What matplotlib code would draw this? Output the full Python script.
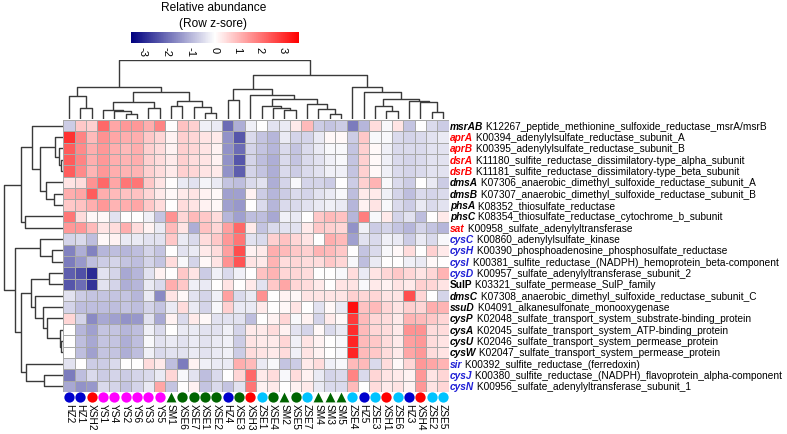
import matplotlib
matplotlib.use("Agg")
import matplotlib.pyplot as plt
import numpy as np
from matplotlib.colors import LinearSegmentedColormap, TwoSlopeNorm
import matplotlib.cm as cm

plt.rcParams['font.family'] = ['Liberation Sans', 'DejaVu Sans']
plt.rcParams['axes.unicode_minus'] = False

# ---- data ----
samples = ["HZ2", "HZ1", "XSH2", "YS1", "YS4", "YS2", "YS6", "YS3", "YS5", "SM1",
           "XSE6", "XSE7", "XSE1", "XSE2", "HZ4", "XSE3", "XSH3", "ZSE1", "XSE4", "SM2",
           "XSE5", "ZSE7", "SM4", "SM3", "SM5", "ZSE4", "HZ5", "ZSE3", "XSH1", "ZSE6",
           "HZ3", "XSH4", "ZSE2", "ZSE5"]

genes = ["msrAB", "aprA", "aprB", "dsrA", "dsrB", "dmsA", "dmsB", "phsA", "phsC", "sat",
         "cysC", "cysH", "cysI", "cysD", "SulP", "dmsC", "ssuD", "cysP", "cysA", "cysU",
         "cysW", "sir", "cysJ", "cysN"]

ko_desc = ["K12267_peptide_methionine_sulfoxide_reductase_msrA/msrB",
           "K00394_adenylylsulfate_reductase_subunit_A",
           "K00395_adenylylsulfate_reductase_subunit_B",
           "K11180_sulfite_reductase_dissimilatory-type_alpha_subunit",
           "K11181_sulfite_reductase_dissimilatory-type_beta_subunit",
           "K07306_anaerobic_dimethyl_sulfoxide_reductase_subunit_A",
           "K07307_anaerobic_dimethyl_sulfoxide_reductase_subunit_B",
           "K08352_thiosulfate_reductase",
           "K08354_thiosulfate_reductase_cytochrome_b_subunit",
           "K00958_sulfate_adenylyltransferase",
           "K00860_adenylylsulfate_kinase",
           "K00390_phosphoadenosine_phosphosulfate_reductase",
           "K00381_sulfite_reductase_(NADPH)_hemoprotein_beta-component",
           "K00957_sulfate_adenylyltransferase_subunit_2",
           "K03321_sulfate_permease_SulP_family",
           "K07308_anaerobic_dimethyl_sulfoxide_reductase_subunit_C",
           "K04091_alkanesulfonate_monooxygenase",
           "K02048_sulfate_transport_system_substrate-binding_protein",
           "K02045_sulfate_transport_system_ATP-binding_protein",
           "K02046_sulfate_transport_system_permease_protein",
           "K02047_sulfate_transport_system_permease_protein",
           "K00392_sulfite_reductase_(ferredoxin)",
           "K00380_sulfite_reductase_(NADPH)_flavoprotein_alpha-component",
           "K00956_sulfate_adenylyltransferase_subunit_1"]

# pathway group of each gene: d = dissimilatory (red), a = assimilatory (blue), o = other
gene_group = ["o", "d", "d", "d", "d", "o", "o", "o", "o", "d",
              "a", "a", "a", "a", "o", "o", "o", "o", "o", "o",
              "o", "a", "a", "a"]

zscore_rows = [
    [-0.7, 0.8, 0.7, 2.2, 1.3, 1.5, 1.5, 1.2, 1.8, 0.0, 0.9, 0.7, -0.2, -0.3, -2.0, -1.1, -0.2, 0.0, -0.4, -0.3, 0.3, 1.0, -0.7, -0.8, -0.7, -1.8, -1.0, 0.5, -0.1, 0.4, -0.8, 0.0, -0.5, -0.7],
    [3.0, 1.8, 1.0, 1.6, 1.3, 1.2, 1.2, 0.8, 0.6, 0.2, 0.7, 0.6, 0.4, 0.3, -1.5, -2.3, -0.5, -0.8, -1.0, -0.3, -0.6, -0.6, -0.3, 0.1, 0.1, -0.7, 0.8, -0.1, -0.1, -0.5, -0.6, -0.5, -0.4, -0.3],
    [2.4, 1.7, 1.2, 1.5, 1.2, 1.0, 1.2, 0.7, 0.5, 0.2, 0.7, 0.6, 0.4, 0.2, -1.5, -2.0, -0.6, -0.8, -1.0, -0.5, -0.8, -0.5, -0.3, -0.1, -0.1, -0.8, 0.7, 0.1, -0.2, -0.5, -0.5, -0.5, -0.4, -0.4],
    [2.4, 1.8, 1.2, 1.5, 1.2, 1.1, 1.2, 0.7, 0.5, 0.3, 0.7, 0.5, 0.4, 0.2, -1.5, -2.3, -0.6, -0.9, -1.1, -0.5, -0.8, -0.5, -0.4, -0.2, -0.1, -0.8, 0.7, 0.1, -0.2, -0.5, -0.6, -0.5, -0.4, -0.4],
    [2.4, 1.7, 1.1, 1.5, 1.2, 1.1, 1.1, 0.7, 0.5, 0.3, 0.7, 0.6, 0.4, 0.3, -1.5, -2.2, -0.6, -0.8, -1.1, -0.5, -0.7, -0.5, -0.4, -0.2, -0.2, -0.8, 0.7, 0.1, -0.2, -0.5, -0.6, -0.5, -0.4, -0.4],
    [0.4, 0.5, 1.6, 2.2, 1.3, 2.0, 2.0, 0.8, 0.4, 0.05, -0.3, -0.4, -0.15, -0.3, -0.8, -0.9, -0.5, -0.4, -1.1, -0.6, -0.1, -0.6, -0.6, -0.7, 0.0, -0.7, 0.7, 1.1, -0.1, -0.5, -0.7, 0.0, -0.3, -0.7],
    [1.2, 1.3, 2.4, 1.2, 1.0, 0.9, 0.9, 0.6, 0.3, 0.1, 0.3, 0.4, 0.2, 0.1, -1.3, -1.3, 0.2, -0.7, -1.0, -0.7, -0.5, -0.6, -0.4, -0.3, -0.1, -0.9, 0.3, 0.3, -0.2, -0.6, -0.9, -0.5, -0.6, -0.5],
    [0.8, 0.9, 1.2, 1.5, 1.1, 1.2, 1.3, 0.8, 0.5, 0.0, 0.5, 0.4, 0.2, 0.1, -1.3, -1.4, 0.0, -0.5, -1.0, -0.5, -0.5, -0.4, -0.3, -0.2, -0.3, -1.0, 0.2, 0.4, -0.1, -0.5, -0.7, -0.3, -0.5, -0.4],
    [2.0, 0.5, 0.1, 0.1, -0.4, 0.0, 0.0, -0.2, -0.8, 1.6, 0.6, 1.0, 0.8, 0.5, -1.0, -1.3, -0.9, -0.9, -1.2, -0.2, -0.3, 0.0, 0.8, 1.0, 0.9, -1.0, 1.9, -0.1, 0.3, -0.6, -0.4, -0.9, 0.0, 0.3],
    [1.5, 1.5, 1.0, 0.4, 0.5, 1.2, 0.5, 0.2, -0.3, 1.0, 0.4, -1.1, 0.9, 0.6, 1.4, 2.2, 0.3, -0.8, -0.5, -0.4, -0.4, 0.3, 0.8, 0.7, 0.6, -1.5, -0.2, -0.7, -0.6, -0.8, -1.0, -0.6, -0.8, -1.0],
    [-0.6, -0.5, -0.9, 0.1, 0.2, -0.3, -0.3, -0.4, -0.4, 0.8, -0.3, -0.5, 0.5, 0.8, 1.5, 2.0, -0.4, -0.5, 0.7, 0.9, 0.6, 0.4, 0.0, 1.2, 1.0, -1.3, -0.4, -0.5, -0.2, -0.3, -0.7, -0.3, -0.5, -0.1],
    [-1.7, -1.1, -1.7, -1.0, -0.9, -1.0, -0.9, -0.6, -0.8, 0.0, -0.4, -0.3, 0.3, 0.5, 1.4, 2.6, 0.2, 0.3, 1.2, 1.0, 0.8, 0.7, 1.1, 1.0, 0.8, 0.0, -0.8, -0.5, -0.1, 0.1, 0.5, 0.0, 0.7, 0.3],
    [-1.8, -1.4, -0.9, -0.7, -0.6, -0.8, -0.9, -0.6, -0.8, 0.5, -0.1, -0.6, 0.1, 0.4, 1.6, 2.5, 0.4, 0.3, 1.1, 0.5, 0.6, 0.5, 0.5, 0.8, 0.6, -0.1, -0.9, -0.3, 0.0, 0.0, -0.2, -0.3, 0.1, 0.0],
    [-2.2, -2.4, -2.9, -0.4, -0.6, -1.2, -1.0, -0.4, 0.2, 0.0, 0.8, 0.4, -0.7, -0.2, -0.5, -0.2, 0.0, 0.9, 1.1, 0.6, 0.6, 0.5, 0.0, 0.0, -0.1, 0.5, -0.3, 0.4, 0.6, 0.8, 0.6, 0.4, 0.6, 1.1],
    [-2.3, -2.0, -2.8, -0.4, -0.6, -1.1, -1.0, -0.3, -0.5, 1.2, 0.8, -0.2, -0.3, 0.0, 0.4, 0.0, 0.3, -0.4, 0.8, 1.3, 0.6, 0.5, 0.3, 0.0, 0.4, 0.4, -0.1, 0.3, 0.2, 0.4, 0.3, 0.7, 0.6, 0.4],
    [-0.4, -0.7, -0.8, -0.8, -0.8, -0.8, -1.0, -0.3, -1.6, 0.4, 0.1, -0.4, -0.6, -0.2, 1.4, -0.5, -0.3, 1.6, 0.0, 0.2, 0.1, 0.4, 0.4, 0.4, 0.4, 0.7, 0.6, 0.6, 0.4, 0.4, 2.6, 0.6, 0.0, -0.6],
    [-0.6, -0.9, -0.9, -0.9, -0.9, -0.8, -0.9, -0.6, -0.8, -0.3, 0.5, -0.3, -0.6, -0.1, 0.7, -0.3, -0.3, 0.3, 0.0, 0.1, 0.4, 0.0, -0.4, 0.1, -0.3, 3.5, 0.9, 1.0, 0.6, 0.4, 0.7, 0.6, 1.2, 1.1],
    [0.6, -0.6, -1.6, -1.2, -1.3, -1.5, -1.4, -0.4, -1.2, 0.2, -0.5, 0.3, 0.1, -0.4, -0.4, -0.4, -0.9, 0.0, 0.2, 0.6, -0.1, 0.2, -0.6, 0.3, 0.1, 2.9, 1.0, 0.6, 0.5, 0.3, 1.1, 1.0, 0.8, 0.6],
    [0.0, -1.0, -1.3, -0.8, -0.8, -1.0, -0.9, -0.2, -0.5, 0.0, -0.3, -0.3, -0.4, -0.4, -0.2, -0.6, 0.3, 0.3, 0.5, 0.2, -0.4, -0.6, 0.1, -0.5, -0.3, 3.1, 1.0, 0.6, 0.5, 0.3, 1.6, 1.6, 0.5, 0.5],
    [0.0, -0.9, -1.2, -0.8, -0.8, -1.1, -0.9, -0.1, -0.4, -0.3, -0.4, -0.3, -0.4, -0.3, -0.2, -0.7, 0.4, 0.3, 0.3, 0.6, -0.2, 0.4, 0.2, 0.0, -0.1, 3.2, 1.0, 0.8, 0.5, 0.3, 1.4, 1.5, 0.5, 0.4],
    [0.0, -0.9, -1.3, -0.8, -0.8, -1.1, -0.9, -0.2, -0.5, -0.4, -0.4, -0.3, -0.4, -0.3, -0.2, -0.7, 0.5, 0.4, 0.3, 0.5, -0.2, 0.4, 0.2, 0.0, -0.1, 3.2, 1.0, 0.8, 0.5, 0.3, 1.3, 1.5, 0.5, 0.4],
    [-0.4, 0.0, -0.7, -0.7, -0.5, 0.0, 0.0, 0.5, 0.3, -0.9, -1.8, 0.2, -0.2, -0.3, -0.3, 1.2, 1.0, -0.3, -0.1, -0.8, -0.7, 0.3, 0.5, -0.2, -0.1, 1.0, 1.0, -0.5, 0.5, 0.1, 0.6, 1.5, 1.3, 1.1],
    [-1.8, -0.9, -0.5, -0.7, -0.6, -0.7, -0.6, -0.5, -0.3, 0.6, -0.1, -0.4, -0.9, -0.5, 0.0, 0.6, 2.2, 0.3, 0.5, -0.1, 0.5, 0.2, -0.3, -0.6, -0.5, 1.8, -0.5, 0.6, 0.4, 0.3, 0.2, 1.5, 0.4, 0.6],
    [-1.2, -1.5, -1.4, -0.5, -0.6, -0.8, -0.6, -0.3, 1.3, -0.8, 0.0, 0.2, -0.8, -0.5, -0.8, -0.4, 2.0, 0.2, 0.3, 0.0, 0.2, 0.3, -0.3, -0.5, -0.5, 1.0, 0.0, 0.5, 0.3, 0.4, 0.2, 1.5, 0.4, 0.6],
]

# dendrograms as [left, right, height]; leaves are row/column indices
col_tree = [
    [[0, [1, 2, 11.0], 22.7],
     [[[3, [4, [5, 6, 5.3], 8.5], 9.3], [7, 8, 11.0], 16.7],
      [[9, 10, 12.7], [11, [12, 13, 6.0], 12.5], 17.7], 26.7], 31.7],
    [[[14, 15, 19.3],
      [16, [[17, [18, [19, 20, 9.3], 11.0], 12.7], [21, [22, [23, 24, 5.3], 10.0], 15.3], 20.3], 24.3], 30.0],
     [25, [26, [[27, [28, 29, 8.3], 12.7], [30, [31, [32, 33, 7.0], 16.7], 18.3], 20.3], 26.7], 31.7], 44.3],
    58.7]

row_tree = [
    [[0, [[1, [2, [3, 4, 1.7], 4.0], 8.3], [5, [6, 7, 9.3], 16.7], 22.7], 30.7], [8, 9, 38.3], 41.7],
    [[10, [11, 12, 10.7], 23.3],
     [[[13, 14, 14.3], [15, [16, [17, [18, [19, 20, 1.7], 3.3], 15.7], 20.0], 28.3], 31.7],
      [21, [22, 23, 19.0], 36.7], 41.7], 48.3],
    59.3]

group_style = {"HZ": ("#0000CD", "o"), "XSH": ("#FF0000", "o"), "YS": ("#FF00FF", "o"),
               "SM": ("#006400", "^"), "XSE": ("#006400", "o"), "ZSE": ("#00C3FF", "o")}
gene_colors = {"d": "#FF0000", "a": "#1F1FD6", "o": "black"}

vmin, vmax = -3.5, 3.75
W, H = 787, 435


def box(x0, y0, x1, y1):
    # pixel box (top-left origin) -> figure fraction rect
    return [x0 / W, 1 - y1 / H, (x1 - x0) / W, (y1 - y0) / H]


def draw_tree(ax, node, vertical):
    if not isinstance(node, list):
        return node + 0.5, 0.0
    lp, lh = draw_tree(ax, node[0], vertical)
    rp, rh = draw_tree(ax, node[1], vertical)
    h = node[2]
    xs, ys = [lp, lp, rp, rp], [lh, h, h, rh]
    if vertical:
        ax.plot(xs, ys, color="#3a3a3a", lw=1.0, solid_capstyle="butt")
    else:
        ax.plot(ys, xs, color="#3a3a3a", lw=1.0, solid_capstyle="butt")
    return (lp + rp) / 2, h


fig = plt.figure(figsize=(W / 100, H / 100), dpi=100)

cmap = LinearSegmentedColormap.from_list("bwr_navy", ["#00007F", "#FFFFFF", "#FF0000"])
norm = TwoSlopeNorm(vmin=vmin, vcenter=0, vmax=vmax)

# heatmap
hx0, hx1, hy0, hy1 = 63.3, 448.6, 121, 393
ax = fig.add_axes(box(hx0, hy0, hx1, hy1))
data = np.array(zscore_rows)
nr, nc = data.shape
ax.pcolormesh(np.arange(nc + 1), np.arange(nr + 1), data, cmap=cmap, norm=norm,
              edgecolors="#A8A8A8", linewidth=0.55)
ax.set_xlim(0, nc)
ax.set_ylim(nr, 0)
ax.axis("off")

# sample markers and names
for j, s in enumerate(samples):
    grp = s.rstrip("0123456789")
    col, mk = group_style[grp]
    ax.scatter(j + 0.5, nr + 0.45, s=55 if mk == "o" else 50, marker=mk, color=col,
               clip_on=False, linewidths=0)
    ax.text(j + 0.5, nr + 0.98, s, rotation=270, ha="center", va="top", fontsize=7.3,
            clip_on=False)

# gene labels
for i, (g, d) in enumerate(zip(genes, ko_desc)):
    style = "normal" if g == "SulP" else "italic"
    t = ax.text(nc + 0.12, i + 0.5, g, fontsize=7.3, fontweight="bold", fontstyle=style,
                color=gene_colors[gene_group[i]], ha="left", va="center", clip_on=False)
    ax.annotate(" " + d, xy=(1, 0), xycoords=t, ha="left", va="bottom", fontsize=7.3,
                color="black", annotation_clip=False)

# column dendrogram
axt = fig.add_axes(box(hx0, 60.5, hx1, 120))
draw_tree(axt, col_tree, True)
axt.set_xlim(0, nc)
axt.set_ylim(0, 59.5)
axt.axis("off")

# row dendrogram
axl = fig.add_axes(box(0, hy0, hx0 - 0.5, hy1))
draw_tree(axl, row_tree, False)
axl.set_xlim(62.8, 0)
axl.set_ylim(nr, 0)
axl.axis("off")

# colour key
axc = fig.add_axes(box(131, 33, 299, 44))
cb = fig.colorbar(cm.ScalarMappable(norm=norm, cmap=cmap), cax=axc, orientation="horizontal")
cb.outline.set_visible(False)
cb.set_ticks([-3, -2, -1, 0, 1, 2, 3])
axc.set_xlim(vmin, vmax)
axc.tick_params(length=0, pad=2, labelsize=8)
for lbl in axc.get_xticklabels():
    lbl.set_rotation(270)
    lbl.set_va("top")
fig.text(213.5 / W, 1 - 8 / H, "Relative abundance", ha="center", va="center", fontsize=8.6)
fig.text(213.5 / W, 1 - 24 / H, "(Row z-sore)", ha="center", va="center", fontsize=8.6)

fig.savefig("out.png", dpi=100)
